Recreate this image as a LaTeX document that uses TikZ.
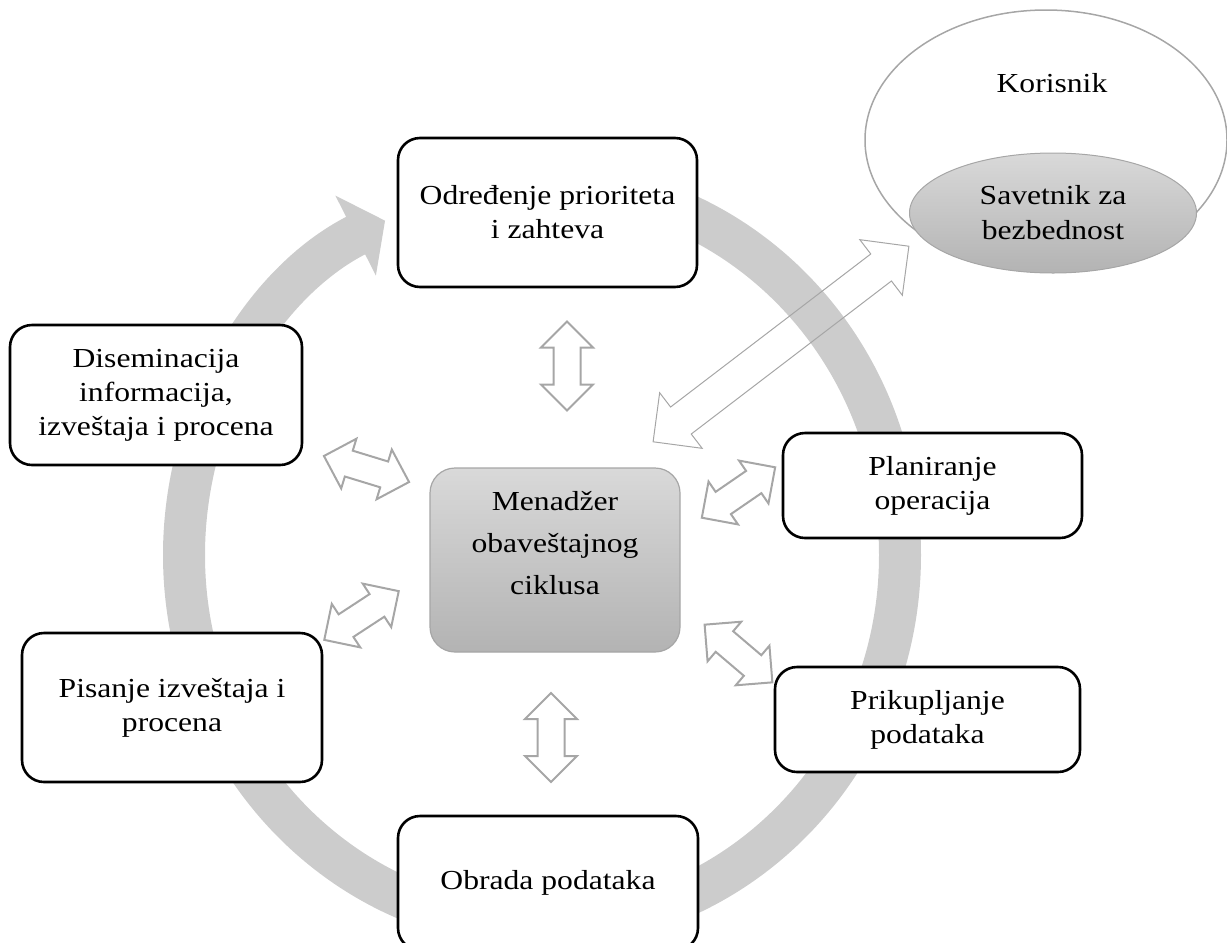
\documentclass[tikz,border=0pt]{standalone}
\usepackage{fontspec}
\setmainfont{Liberation Serif}[FakeStretch=1.15]
\usetikzlibrary{shapes.geometric,shapes.arrows,arrows.meta}
\definecolor{ringgray}{HTML}{CCCCCC}
\definecolor{edgegray}{HTML}{A6A6A6}
\definecolor{shadetop}{HTML}{D9D9D9}
\definecolor{shadebottom}{HTML}{B3B3B3}
\tikzset{
    stage/.style={draw, line width=1.3pt, fill=white, rounded corners=11pt, align=center, font=\fontsize{13.75}{17}\selectfont},
    twoway/.style={double arrow, draw=edgegray, line width=1pt, double arrow tip angle=90, double arrow head extend=6.25pt, inner xsep=0pt, inner ysep=6.25pt, minimum height=44.5pt},
    shaded/.style={draw=edgegray, top color=shadetop, bottom color=shadebottom},
}
\begin{document}
\begin{tikzpicture}[x=0.5pt, y=-0.5pt]
    \useasboundingbox (0,0) rectangle (1227,943);
    \draw[ringgray, line width=21pt, -{Triangle[length=16.5pt, width=44pt]}] (542,183) arc[start angle=-90, end angle=244, x radius=358, y radius=372];
    \node[twoway, rotate=90] (a1) at (567,366) {};
    \node[twoway, rotate=90] (a2) at (551,737.5) {};
    \node[twoway, rotate=-17] (a3) at (366.5,469) {};
    \node[twoway, rotate=33.2] (a4) at (361.5,615.5) {};
    \node[twoway, rotate=34.5] (a5) at (738.5,492.5) {};
    \node[twoway, rotate=-40.4] (a6) at (738.5,653.5) {};
    \node[twoway, line width=0.5pt, double arrow head extend=9pt, inner ysep=8.25pt, minimum height=161pt, rotate=37.4] (a7) at (781,344) {};
    \node[stage, minimum width=149.5pt, minimum height=74.5pt] (prio) at (547.5,212.5) {Određenje prioriteta\\i zahteva};
    \node[stage, minimum width=146pt, minimum height=70pt] (dis) at (156,395) {Diseminacija\\informacija,\\izveštaja i procena};
    \node[stage, minimum width=150pt, minimum height=74.5pt] (pis) at (172,707.5) {Pisanje izveštaja i\\procena};
    \node[stage, minimum width=149.5pt, minimum height=52.5pt] (plan) at (932.5,485.5) {Planiranje\\operacija};
    \node[stage, minimum width=152.5pt, minimum height=52.5pt] (prik) at (927.5,719.5) {Prikupljanje\\podataka};
    \node[stage, minimum width=150pt, minimum height=67pt] (obr) at (548,883) {Obrada podataka};
    \node[shaded, line width=0.6pt, rounded corners=12.5pt, minimum width=125pt, minimum height=92pt] (men) at (555,560) {};
    \node[align=center, font=\fontsize{13.75}{21}\selectfont] (mentxt) at (555,543) {Menadžer\\obaveštajnog\\ciklusa};
    \node[ellipse, draw=edgegray, line width=0.75pt, minimum width=181pt, minimum height=130pt] (kor) at (1046,140) {};
    \node[font=\fontsize{13.75}{17}\selectfont] (kortxt) at (1052,83) {Korisnik};
    \node[ellipse, shaded, line width=0.5pt, minimum width=143.5pt, minimum height=60pt, align=center, font=\fontsize{13.75}{17.5}\selectfont] (sav) at (1053,213) {Savetnik za\\bezbednost};
\end{tikzpicture}
\end{document}
